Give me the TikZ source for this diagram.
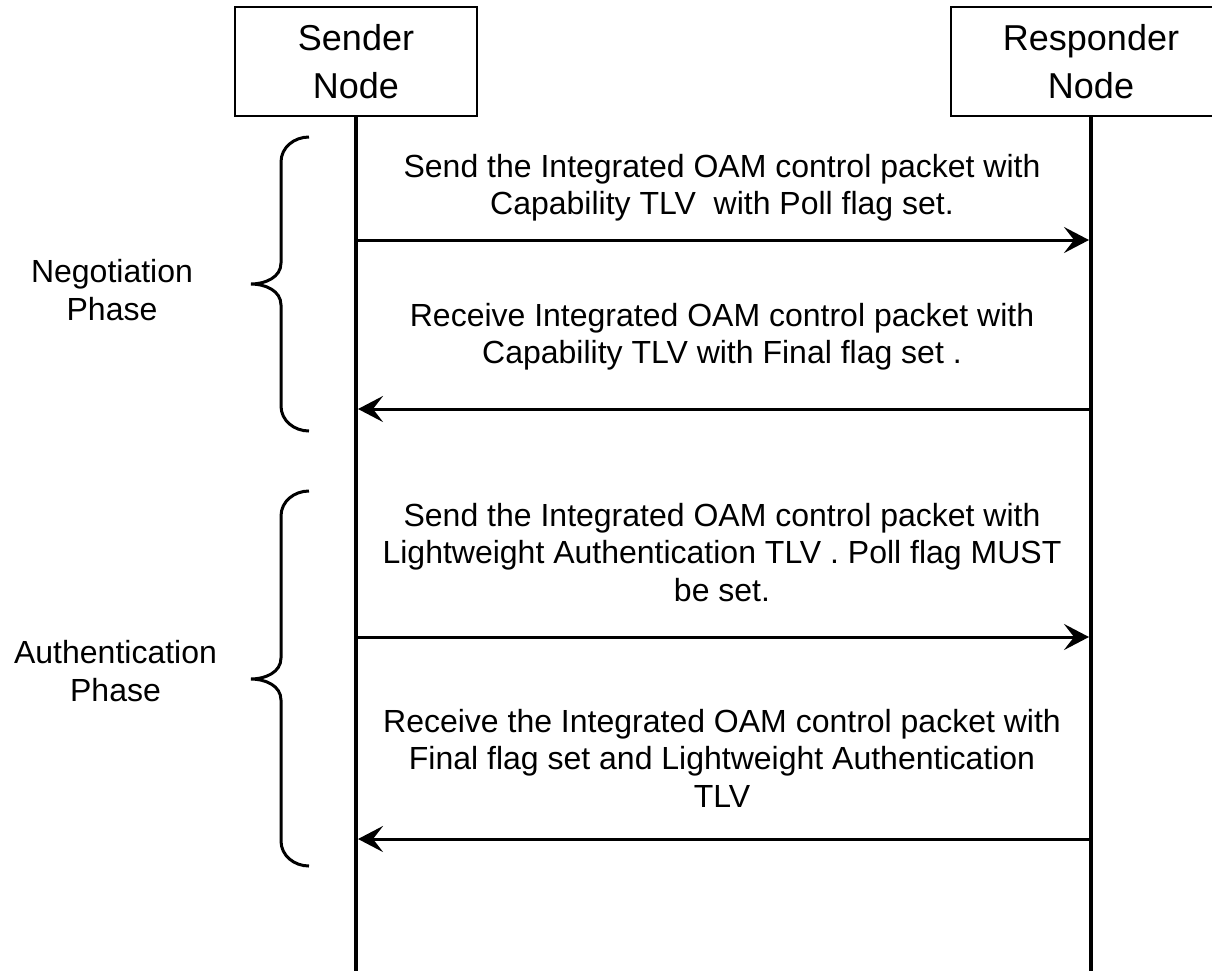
\documentclass[tikz,border=0pt]{standalone}
\usepackage{fontspec}
\setmainfont{Liberation Sans}
\usetikzlibrary{arrows.meta}
\begin{document}
\begin{tikzpicture}[x=1pt,y=-1pt,
  actor/.style={draw,line width=2.5pt,minimum width=242pt,minimum height=109pt,inner sep=0pt,align=center,font=\fontsize{36}{48}\selectfont},
  lifeline/.style={line width=4pt},
  msg/.style={line width=3pt,-{Stealth[length=25pt,width=26pt,inset=10pt]},shorten >=2pt},
  msgtext/.style={anchor=north,inner sep=0pt,align=center,font=\fontsize{32}{37.5}\selectfont},
  phasetext/.style={anchor=north,inner sep=0pt,align=center,font=\fontsize{32}{38}\selectfont},
  brace/.style={line width=3pt}]
\useasboundingbox (0,0) rectangle (1212,970);
\fill[white] (0,0) rectangle (1212,970);
\clip (0,0) rectangle (1212,970);

% actors
\node[actor] (S) at (356,61.5) {Sender\\Node};
\node[actor,minimum width=280pt] (R) at (1091,61.5) {Responder\\Node};

% lifelines
\coordinate (Sb) at (356,975);
\coordinate (Rb) at (1091,975);
\draw[lifeline] (S.south) -- (Sb);
\draw[lifeline] (R.south) -- (Rb);

% message anchor points
\coordinate (s1) at (356,240);  \coordinate (r1) at (1091,240);
\coordinate (s2) at (356,409);  \coordinate (r2) at (1091,409);
\coordinate (s3) at (356,637);  \coordinate (r3) at (1091,637);
\coordinate (s4) at (356,839);  \coordinate (r4) at (1091,839);

\draw[msg] (s1) -- (r1);
\draw[msg] (r2) -- (s2);
\draw[msg] (s3) -- (r3);
\draw[msg] (r4) -- (s4);

% message labels
\node[msgtext] (m1) at (722,154) {Send the Integrated OAM control packet with\\Capability TLV\ \ with Poll flag set.};
\node[msgtext] (m2) at (722,303) {Receive Integrated OAM control packet with\\Capability TLV with Final flag set .};
\node[msgtext] (m3) at (722,503) {Send the Integrated OAM control packet with\\Lightweight Authentication TLV . Poll flag MUST\\be set.};
\node[msgtext] (m4) at (722,709) {Receive the Integrated OAM control packet with\\Final flag set and Lightweight Authentication\\TLV};

% phase labels
\node[phasetext] (np) at (112,259) {Negotiation\\Phase};
\node[phasetext] (ap) at (115.5,640) {Authentication\\Phase};

% braces
\draw[brace] (309,137) to[out=180,in=90] (281,162) -- (281,263)
  to[out=-90,in=0] (251,284) to[out=0,in=90] (281,305) -- (281,406)
  to[out=-90,in=180] (309,431);
\draw[brace] (309,491) to[out=180,in=90] (281,516) -- (281,658)
  to[out=-90,in=0] (251,679) to[out=0,in=90] (281,700) -- (281,841)
  to[out=-90,in=180] (309,866);
\end{tikzpicture}
\end{document}
